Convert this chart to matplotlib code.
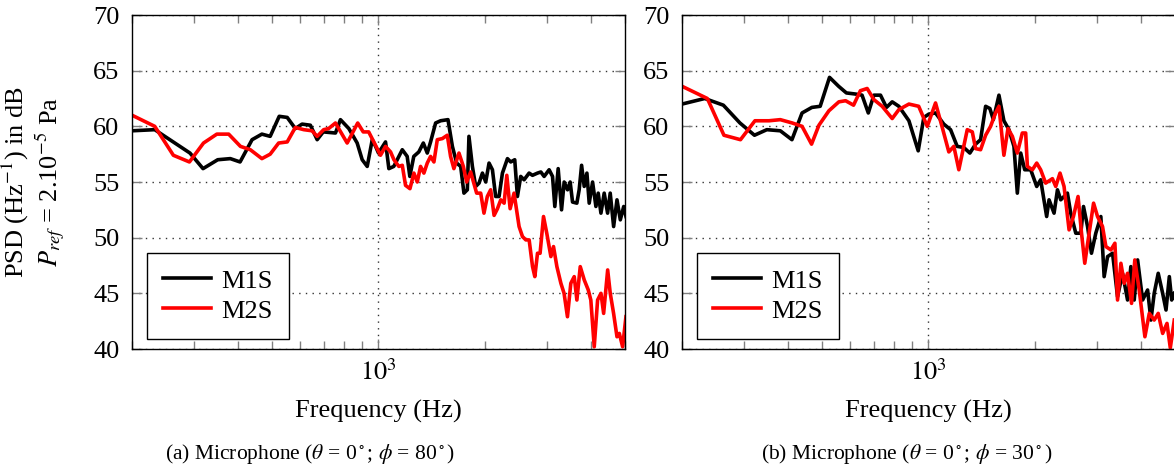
import numpy as np
import matplotlib.pyplot as plt
from matplotlib.ticker import FixedLocator, NullFormatter

plt.rcParams['font.family'] = ['Liberation Serif', 'DejaVu Serif']
plt.rcParams['mathtext.fontset'] = 'stix'

# (a) microphone theta=0, phi=80
freq_a_m1s = [200, 232, 292, 318, 350, 380, 405, 438, 467, 493,
              523, 551, 581, 607, 641, 670, 697, 755, 780, 824,
              870, 899, 929, 960, 981, 1000, 1047, 1070, 1105, 1168,
              1206, 1227, 1259, 1301, 1340, 1375, 1405, 1452, 1500, 1574,
              1620, 1666, 1710, 1747, 1786, 1805, 1846, 1886, 1928, 1971,
              2014, 2058, 2104, 2149, 2197, 2246, 2321, 2371, 2434, 2477,
              2531, 2587, 2673, 2733, 2824, 2886, 2949, 3047, 3115, 3162,
              3232, 3304, 3361, 3436, 3495, 3550, 3651, 3707, 3766, 3831,
              3899, 3958, 4046, 4135, 4198, 4273, 4365, 4463, 4540, 4642,
              4745, 4849, 4958, 5032]
psd_a_m1s = [59.6, 59.7, 57.6, 56.2, 57.0, 57.1, 56.8, 58.8, 59.3, 59.1,
             60.9, 60.8, 59.8, 60.2, 60.1, 58.8, 59.5, 59.4, 60.6, 59.8,
             58.5, 57.0, 56.4, 58.8, 58.2, 57.6, 58.6, 56.2, 56.4, 57.9,
             57.3, 55.5, 57.3, 57.7, 58.5, 57.6, 58.6, 60.3, 60.5, 60.6,
             58.2, 56.7, 56.4, 54.0, 54.3, 59.1, 56.4, 54.6, 54.9, 55.8,
             55.0, 56.7, 56.1, 53.7, 53.7, 55.8, 57.1, 56.8, 57.0, 53.7,
             55.5, 55.2, 55.8, 55.6, 55.8, 55.9, 55.5, 56.1, 55.5, 52.8,
             56.2, 52.5, 55.0, 54.3, 55.0, 53.2, 53.1, 54.3, 56.5, 54.6,
             55.8, 53.1, 55.0, 52.8, 54.0, 52.2, 54.0, 52.2, 54.0, 51.0,
             53.4, 51.6, 52.8, 51.9]

freq_a_m2s = [200, 232, 262, 291, 319, 348, 376, 406, 433, 467,
              493, 521, 551, 581, 614, 648, 670, 699, 722, 755,
              815, 873, 905, 938, 970, 1013, 1047, 1082, 1106, 1142,
              1168, 1193, 1228, 1260, 1288, 1316, 1345, 1375, 1405, 1436,
              1468, 1517, 1567, 1601, 1636, 1691, 1740, 1778, 1825, 1898,
              1949, 1991, 2035, 2080, 2127, 2174, 2222, 2271, 2311, 2362,
              2423, 2504, 2560, 2617, 2674, 2734, 2775, 2824, 2872, 2937,
              3000, 3082, 3135, 3205, 3290, 3359, 3434, 3510, 3589, 3652,
              3733, 3832, 3934, 4000, 4090, 4181, 4274, 4349, 4465, 4541,
              4641, 4745, 4818, 4923, 5031]
psd_a_m2s = [61.0, 60.0, 57.4, 56.8, 58.5, 59.3, 59.3, 58.2, 57.9, 57.1,
             57.5, 58.5, 58.6, 59.9, 59.7, 59.6, 59.1, 59.7, 59.8, 60.3,
             58.5, 60.3, 59.5, 59.5, 58.6, 57.4, 58.2, 57.7, 57.0, 56.4,
             56.5, 54.7, 54.4, 55.8, 55.0, 56.4, 55.8, 56.7, 57.3, 56.8,
             58.8, 58.9, 59.2, 57.3, 56.2, 57.6, 56.4, 55.0, 55.9, 54.0,
             54.0, 52.2, 53.7, 54.3, 52.0, 52.6, 53.4, 53.1, 55.6, 52.6,
             54.0, 51.0, 50.1, 49.8, 49.8, 47.4, 46.5, 48.6, 48.6, 51.9,
             50.4, 48.3, 49.2, 47.4, 45.9, 45.0, 42.9, 45.9, 46.5, 44.4,
             47.4, 46.2, 45.3, 44.4, 40.2, 44.4, 45.0, 43.2, 47.1, 45.0,
             43.2, 41.1, 41.4, 40.2, 42.9]

# (b) microphone theta=0, phi=30
freq_b_m1s = [200, 232, 262, 292, 321, 348, 380, 410, 438, 467,
              493, 524, 556, 585, 621, 648, 675, 700, 731, 760,
              789, 824, 880, 908, 935, 970, 1002, 1047, 1105, 1155,
              1206, 1259, 1310, 1360, 1405, 1452, 1493, 1527, 1584, 1636,
              1691, 1747, 1786, 1826, 1874, 1949, 2027, 2080, 2163, 2197,
              2270, 2321, 2371, 2477, 2531, 2616, 2703, 2751, 2825, 2898,
              2981, 3081, 3148, 3220, 3326, 3436, 3550, 3668, 3748, 3831,
              3917, 4047, 4181, 4273, 4365, 4481, 4613, 4715, 4818, 4893,
              4977]
psd_b_m1s = [62.0, 62.5, 61.9, 60.3, 59.2, 59.7, 59.6, 58.8, 61.2, 61.7,
             61.8, 64.4, 63.6, 63.0, 62.9, 62.8, 61.2, 62.8, 62.8, 61.7,
             62.2, 61.8, 60.5, 59.1, 57.8, 60.8, 61.1, 61.2, 60.2, 59.7,
             58.2, 58.1, 57.6, 58.4, 58.8, 61.8, 61.6, 60.6, 62.8, 60.5,
             59.7, 58.2, 54.0, 57.6, 56.1, 56.1, 54.6, 55.2, 51.9, 53.4,
             52.2, 54.3, 53.4, 54.0, 52.2, 50.4, 50.4, 52.8, 51.0, 48.6,
             50.4, 51.9, 46.5, 48.3, 48.6, 44.7, 46.8, 44.4, 47.4, 44.4,
             48.0, 44.4, 45.3, 42.6, 45.0, 46.8, 45.0, 43.5, 46.5, 44.4,
             45.0]

freq_b_m2s = [200, 236, 263, 293, 322, 353, 380, 411, 438, 466,
              489, 522, 557, 582, 613, 641, 670, 700, 739, 789,
              824, 880, 938, 992, 1047, 1094, 1142, 1180, 1219, 1288,
              1331, 1360, 1405, 1452, 1500, 1549, 1584, 1636, 1680, 1729,
              1786, 1845, 1886, 1907, 1971, 2027, 2080, 2149, 2246, 2295,
              2360, 2423, 2504, 2576, 2655, 2716, 2774, 2854, 2938, 3015,
              3115, 3184, 3290, 3377, 3436, 3512, 3589, 3668, 3765, 3846,
              3958, 4108, 4227, 4365, 4481, 4613, 4745, 4849, 4977]
psd_b_m2s = [63.6, 62.5, 59.2, 58.8, 60.5, 60.5, 60.6, 60.3, 60.0, 58.4,
             60.1, 61.4, 62.2, 62.3, 61.9, 63.2, 63.4, 62.4, 61.8, 60.7,
             61.5, 62.0, 61.8, 60.0, 62.1, 59.9, 57.7, 58.2, 56.1, 59.7,
             59.5, 58.0, 57.9, 59.2, 60.0, 61.2, 61.8, 57.4, 59.8, 59.1,
             57.6, 59.4, 59.4, 56.4, 56.1, 56.7, 56.1, 54.9, 55.3, 54.6,
             55.8, 54.6, 50.7, 51.9, 53.7, 50.4, 47.7, 50.4, 53.1, 51.9,
             51.0, 49.2, 48.9, 49.5, 44.4, 47.7, 45.9, 46.8, 44.1, 48.0,
             45.3, 41.1, 43.2, 42.6, 43.2, 41.4, 42.3, 40.1, 42.6]

minor_ticks = [200, 300, 400, 500, 600, 700, 800, 900, 2000, 3000, 4000, 5000]
captions = [r'(a) Microphone ($\theta$ = 0$^\circ$; $\phi$ = 80$^\circ$)',
            r'(b) Microphone ($\theta$ = 0$^\circ$; $\phi$ = 30$^\circ$)']

W, H = 1174, 469
fig = plt.figure(figsize=(W / 100, H / 100), dpi=100)
ax_a = fig.add_axes([132 / W, 120 / H, 493 / W, 334 / H])
ax_b = fig.add_axes([682 / W, 120 / H, 493 / W, 334 / H])

fs = 19
for ax in (ax_a, ax_b):
    ax.set_xscale('log')
    ax.set_xlim(200, 5000)
    ax.set_ylim(40, 70)
    ax.set_yticks(range(40, 71, 5))
    ax.set_xticks([1000], [r'$10^{3}$'])
    ax.xaxis.set_minor_locator(FixedLocator(minor_ticks))
    ax.xaxis.set_minor_formatter(NullFormatter())
    ax.grid(True, which='major', linestyle=(0, (1, 3.8)), color='0.2', lw=1.0)
    ax.tick_params(which='both', direction='in', top=True, right=True,
                   color='0.5', labelsize=fs)
    ax.tick_params(which='major', length=7, width=1)
    ax.tick_params(which='minor', length=6, width=1)
    ax.tick_params(axis='y', pad=9)
    ax.tick_params(axis='x', pad=7)
    for s in ax.spines.values():
        s.set_linewidth(1.0)
    ax.set_xlabel('Frequency (Hz)', fontsize=fs, labelpad=11)
    ax.set_axisbelow(True)

ax_a.plot(freq_a_m1s, psd_a_m1s, color='black', lw=2.6, label='M1S')
ax_a.plot(freq_a_m2s, psd_a_m2s, color='red', lw=2.6, label='M2S')
ax_b.plot(freq_b_m1s, psd_b_m1s, color='black', lw=2.6, label='M1S')
ax_b.plot(freq_b_m2s, psd_b_m2s, color='red', lw=2.6, label='M2S')

for ax in (ax_a, ax_b):
    leg = ax.legend(loc='lower left', bbox_to_anchor=(15 / 493, 10 / 334),
                    fontsize=fs, fancybox=False, edgecolor='black', framealpha=1,
                    handlelength=1.8, handletextpad=0.4, borderpad=0.62,
                    labelspacing=0.25, borderaxespad=0)
    leg.get_frame().set_linewidth(1.0)

ax_a.set_ylabel('PSD (Hz$^{-1}$) in dB\n$P_{ref}$ = 2.10$^{-5}$ Pa', fontsize=fs,
                linespacing=1.1)
ax_a.yaxis.set_label_coords(-0.132, 0.5)

fig.text(310 / W, 1 - 454 / H, captions[0], ha='center', va='center', fontsize=15.5)
fig.text(907 / W, 1 - 454 / H, captions[1], ha='center', va='center', fontsize=15.5)

fig.savefig('out.png', dpi=100)
